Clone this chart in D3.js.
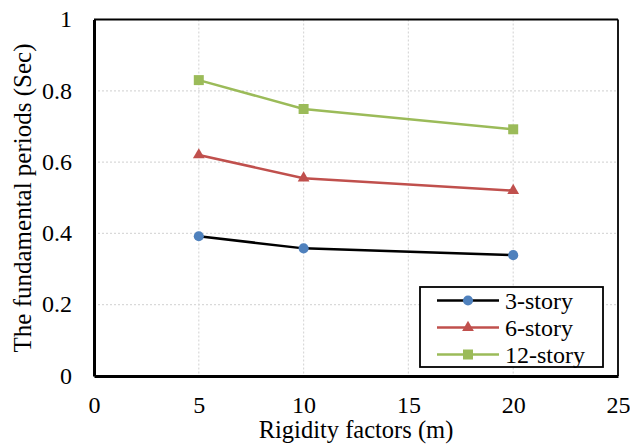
<!DOCTYPE html>
<html><head><meta charset="utf-8">
<script src="https://cdn.jsdelivr.net/npm/d3@7"></script>
<style>body{margin:0;background:#fff}svg{display:block}</style>
</head><body><svg id="c" width="630" height="447" font-family="Liberation Serif"></svg>
<script>
const xValues = [5, 10, 20];
const story3 = [0.392, 0.358, 0.339];
const story6 = [0.620, 0.555, 0.520];
const story12 = [0.830, 0.749, 0.692];
const seriesNames = ["3-story", "6-story", "12-story"];
const xTicks = [0, 5, 10, 15, 20, 25];
const yTicks = [0, 0.2, 0.4, 0.6, 0.8, 1];

const FONT = "Liberation Serif";
const svg = d3.select("#c");
const L = 94, R = 618, T = 19.5, B = 376;
const x = d3.scaleLinear().domain([0, 25]).range([L, R]);
const y = d3.scaleLinear().domain([0, 1]).range([B, T]);

// grid
svg.append("g").selectAll("line").data(yTicks.filter(d => d > 0 && d < 1)).join("line")
  .attr("x1", L).attr("x2", R).attr("y1", d => y(d)).attr("y2", d => y(d))
  .attr("stroke", "#d9d9d9").attr("stroke-width", 1.2).attr("stroke-dasharray", "2,2");
svg.append("g").selectAll("line").data(xTicks.filter(d => d > 0 && d < 25)).join("line")
  .attr("x1", d => x(d)).attr("x2", d => x(d)).attr("y1", T).attr("y2", B)
  .attr("stroke", "#d9d9d9").attr("stroke-width", 1.2).attr("stroke-dasharray", "2,2");

// frame
svg.append("line").attr("x1", L).attr("x2", R).attr("y1", T).attr("y2", T).attr("stroke", "#000").attr("stroke-width", 1.8);
svg.append("line").attr("x1", R).attr("x2", R).attr("y1", T).attr("y2", B).attr("stroke", "#000").attr("stroke-width", 1.8);

// axes
const xAxis = d3.axisBottom(x).tickValues(xTicks).tickSize(0).tickPadding(20).tickFormat(d3.format("d"));
const gx = svg.append("g").attr("transform", `translate(0,${B})`).call(xAxis);
gx.attr("font-family", FONT).attr("font-size", 24);
gx.select(".domain").attr("stroke", "#000").attr("stroke-width", 3);
gx.selectAll("text").attr("fill", "#000").attr("dy", null).attr("y", 37);
const yAxis = d3.axisLeft(y).tickValues(yTicks).tickSize(0).tickPadding(22).tickFormat(d => d === 0 || d === 1 ? d3.format("d")(d) : d3.format(".1f")(d));
const gy = svg.append("g").attr("transform", `translate(${L},0)`).call(yAxis);
gy.attr("font-family", FONT).attr("font-size", 24);
gy.select(".domain").attr("stroke", "#000").attr("stroke-width", 3);
gy.selectAll("text").attr("fill", "#000").attr("x", -22).attr("dy", "0.3em");

// titles
svg.append("text").attr("x", 356).attr("y", 438).attr("text-anchor", "middle").attr("font-family", FONT).attr("font-size", 24.5).text("Rigidity factors (m)");
svg.append("text").attr("transform", "translate(31,198) rotate(-90)").attr("text-anchor", "middle").attr("font-family", FONT).attr("font-size", 25).text("The fundamental periods (Sec)");

const series = [
  { name: seriesNames[0], vals: story3, line: "#000000", mark: "#4f81bd", shape: d3.symbolCircle, size: 80 },
  { name: seriesNames[1], vals: story6, line: "#c0504d", mark: "#c0504d", shape: d3.symbolTriangle, size: 60 },
  { name: seriesNames[2], vals: story12, line: "#9bbb59", mark: "#9bbb59", shape: d3.symbolSquare, size: 100 }
];
const lineGen = d3.line().x(d => x(d[0])).y(d => y(d[1]));
series.forEach(s => {
  const pts = xValues.map((v, i) => [v, s.vals[i]]);
  svg.append("path").attr("d", lineGen(pts)).attr("fill", "none").attr("stroke", s.line).attr("stroke-width", 2.5);
  svg.append("g").selectAll("path").data(pts).join("path")
    .attr("d", d3.symbol().type(s.shape).size(s.size))
    .attr("transform", d => `translate(${x(d[0])},${y(d[1])})`).attr("fill", s.mark);
});

// legend
const lg = svg.append("g");
lg.append("rect").attr("x", 420).attr("y", 287).attr("width", 183).attr("height", 80).attr("fill", "#fff").attr("stroke", "#000").attr("stroke-width", 1.8);
series.forEach((s, i) => {
  const yy = 300.5 + i * 27;
  lg.append("line").attr("x1", 437).attr("x2", 499).attr("y1", yy).attr("y2", yy).attr("stroke", s.line).attr("stroke-width", 2.5);
  lg.append("path").attr("d", d3.symbol().type(s.shape).size(s.size)).attr("transform", `translate(468,${yy})`).attr("fill", s.mark);
  lg.append("text").attr("x", 505).attr("y", yy + 8).attr("font-family", FONT).attr("font-size", 24).text(s.name);
});
</script></body></html>
